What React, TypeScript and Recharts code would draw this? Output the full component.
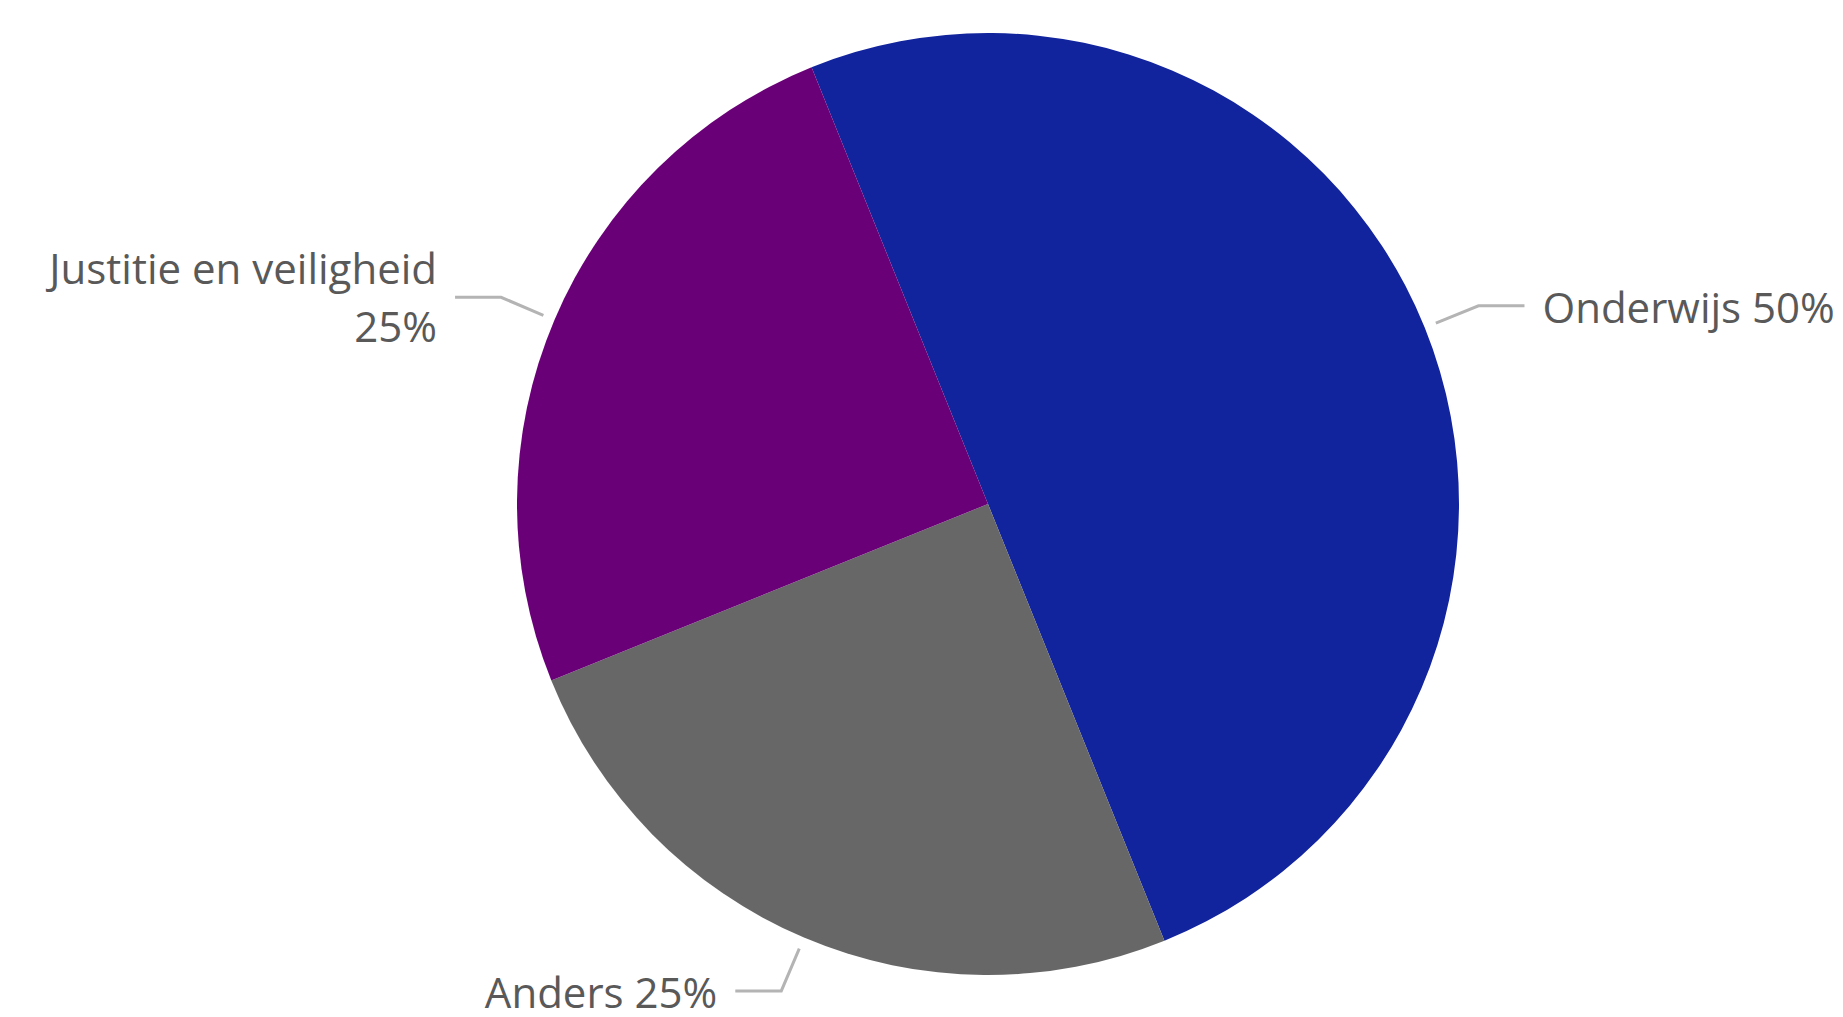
import React from 'react';
import { PieChart, Pie, Cell } from 'recharts';

const categories = ['Onderwijs', 'Anders', 'Justitie en veiligheid'];
const values = [50, 25, 25];
const colors = ['#11239D', '#676767', '#6A0077'];

const data = categories.map((name, i) => ({ name, value: values[i] }));

const RADIAN = Math.PI / 180;
const FONT = '"Open Sans", sans-serif';
const FONT_SIZE = 42;

const renderLabel = (props: any) => {
  const { cx, cy, midAngle, outerRadius, percent, name } = props;
  const cos = Math.cos(-midAngle * RADIAN);
  const sin = Math.sin(-midAngle * RADIAN);
  const r0 = outerRadius + 12;
  const r1 = outerRadius + 58;
  const sx = cx + r0 * cos;
  const sy = cy + r0 * sin;
  const ex = cx + r1 * cos;
  const ey = cy + r1 * sin;
  const dir = cos >= 0 ? 1 : -1;
  const hx = ex + dir * 46;
  const tx = hx + dir * 18;
  const pct = `${Math.round(percent * 100)}%`;
  const twoLines = name.length > 12;
  const anchor = dir > 0 ? 'start' : 'end';
  return (
    <g>
      <polyline
        points={`${sx},${sy} ${ex},${ey} ${hx},${ey}`}
        fill="none"
        stroke="#b4b4b4"
        strokeWidth={3}
      />
      {twoLines ? (
        <text x={tx} y={ey} textAnchor={anchor} fill="#595959" fontFamily={FONT} fontSize={FONT_SIZE}>
          <tspan x={tx} y={ey - 13}>{name}</tspan>
          <tspan x={tx} y={ey + 45}>{pct}</tspan>
        </text>
      ) : (
        <text x={tx} y={ey + 17} textAnchor={anchor} fill="#595959" fontFamily={FONT} fontSize={FONT_SIZE}>
          {`${name} ${pct}`}
        </text>
      )}
    </g>
  );
};

export default function App() {
  return (
    <div style={{ position: 'absolute', left: 0, top: 0, width: 1843, height: 1017, background: '#fff' }}>
      <PieChart width={1843} height={1017} margin={{ top: 0, right: 0, bottom: 0, left: 0 }}>
        <Pie
          data={data}
          dataKey="value"
          nameKey="name"
          cx={988}
          cy={504}
          outerRadius={471}
          startAngle={112}
          endAngle={-248}
          stroke="none"
          label={renderLabel}
          labelLine={false}
          isAnimationActive={false}
        >
          {data.map((d, i) => (
            <Cell key={d.name} fill={colors[i]} stroke="none" />
          ))}
        </Pie>
      </PieChart>
    </div>
  );
}
